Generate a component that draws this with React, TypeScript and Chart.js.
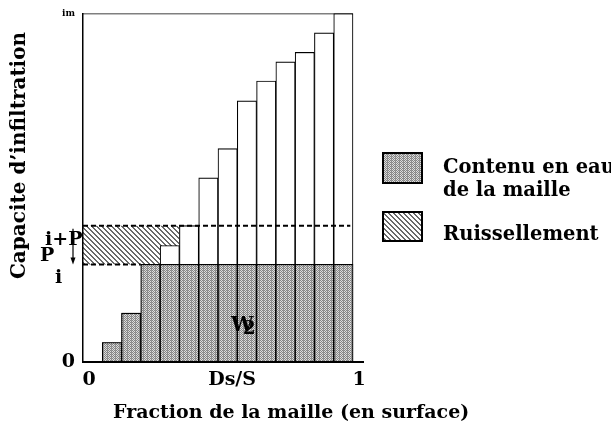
import { useEffect, useRef } from "react";
import { Chart, registerables } from "chart.js";

Chart.register(...registerables);

// ---- data ----
const SLOT_COUNT = 14; // the unit fraction is divided in 14 equal slots, slot 0 is empty
const BAR_SLOTS = [1, 2, 3, 4, 5, 6, 7, 8, 9, 10, 11, 12, 13];
const CAPACITY = [5.6, 14.0, 28.0, 33.4, 39.1, 52.8, 61.2, 74.9, 80.6, 86.1, 88.8, 94.4, 100];
const P_I = 28.0; // level P_i
const I_PLUS_P = 39.1; // level i+P
const I_MAX = 100; // im
const DS_S = 0.53;
const X_TICKS = [0, DS_S, 1];
const X_TICK_LABELS = ["0", "Ds/S", "1"];
const Y_TICKS = [0, I_MAX];
const Y_TICK_LABELS = ["0", "im"];
const HATCH_END_SLOT = 5;
const PI_DASH_END_SLOT = 3;
const LEGEND_LABELS = [["Contenu en eau", "de la maille"], ["Ruissellement"]];
const X_TITLE = "Fraction de la maille (en surface)";
const Y_TITLE = "Capacite d\u2019infiltration";

const FAMILY = '"DejaVu Serif", serif';
const bold = (s: number) => `bold ${s}px ${FAMILY}`;

function makeStipple(ctx: CanvasRenderingContext2D) {
  const c = document.createElement("canvas");
  c.width = 4;
  c.height = 2;
  const g = c.getContext("2d")!;
  g.fillStyle = "#dedede";
  g.fillRect(0, 0, 4, 2);
  g.fillStyle = "#858585";
  g.fillRect(0, 0, 1, 1);
  g.fillRect(1, 1, 1, 1);
  g.fillRect(2, 0, 1, 1);
  g.fillRect(3, 1, 1, 1);
  g.fillStyle = "#9a9a9a";
  g.fillRect(3, 0, 1, 1);
  return ctx.createPattern(c, "repeat")!;
}

function makeHatch(ctx: CanvasRenderingContext2D) {
  const s = 5;
  const c = document.createElement("canvas");
  c.width = s;
  c.height = s;
  const g = c.getContext("2d")!;
  g.fillStyle = "#ffffff";
  g.fillRect(0, 0, s, s);
  g.fillStyle = "#6a6a6a";
  for (let i = 0; i < s; i++) {
    g.fillRect(i, i, 1, 1);
    g.fillRect((i + 1) % s, i, 1, 1);
  }
  return ctx.createPattern(c, "repeat")!;
}

export default function App() {
  const canvasRef = useRef<HTMLCanvasElement | null>(null);

  useEffect(() => {
    const canvas = canvasRef.current!;
    const ctx2d = canvas.getContext("2d")!;
    const stipple = makeStipple(ctx2d);
    const hatch = makeHatch(ctx2d);

    const slotCenter = (s: number) => (s + 0.5) / SLOT_COUNT;

    const annotations = {
      id: "annotations",
      afterDatasetsDraw(chart: any) {
        const { ctx, scales } = chart;
        const x = scales.x;
        const y = scales.y;
        ctx.save();
        ctx.fillStyle = "#000";
        ctx.textAlign = "center";
        ctx.textBaseline = "alphabetic";
        const wx = x.getPixelForValue(0.59);
        const wy = y.getPixelForValue(9);
        ctx.font = bold(20);
        ctx.fillText("W", wx, wy);
        ctx.font = bold(18);
        ctx.fillText("2", wx + 7, wy + 3);
        ctx.restore();
      },
      afterDraw(chart: any) {
        const { ctx, chartArea, scales } = chart;
        const y = scales.y;
        const left = chartArea.left;
        const yIP = y.getPixelForValue(I_PLUS_P);
        const yPi = y.getPixelForValue(P_I);
        ctx.save();
        ctx.fillStyle = "#000";
        ctx.strokeStyle = "#000";
        ctx.textBaseline = "alphabetic";
        ctx.textAlign = "left";
        ctx.font = bold(19);
        ctx.fillText("i+P", left - 38, yIP + 19);
        ctx.fillText("P", left - 43, yPi - 3);
        ctx.fillText("i", left - 28, yPi + 19);

        // arrow
        const ax = left - 10;
        ctx.lineWidth = 1.2;
        ctx.beginPath();
        ctx.moveTo(ax, yIP + 3);
        ctx.lineTo(ax, yPi - 5);
        ctx.stroke();
        ctx.beginPath();
        ctx.moveTo(ax - 2.5, yPi - 7);
        ctx.lineTo(ax + 2.5, yPi - 7);
        ctx.lineTo(ax, yPi);
        ctx.closePath();
        ctx.fill();

        // axis titles
        ctx.font = bold(19);
        ctx.textAlign = "left";
        ctx.fillText(X_TITLE, 113, 418);

        ctx.save();
        ctx.translate(25, 155.5);
        ctx.rotate(-Math.PI / 2);
        ctx.textAlign = "center";
        ctx.font = bold(20);
        ctx.fillText(Y_TITLE, 0, 0);
        ctx.restore();

        // legend
        const swatches = [
          { fill: stipple, top: 153, h: 30, baselines: [173, 196] },
          { fill: hatch, top: 212, h: 29, baselines: [240] },
        ];
        swatches.forEach((sw, i) => {
          ctx.fillStyle = sw.fill;
          ctx.fillRect(383, sw.top, 39, sw.h);
          ctx.lineWidth = 2;
          ctx.strokeStyle = "#000";
          ctx.strokeRect(383, sw.top, 39, sw.h);
          ctx.fillStyle = "#000";
          ctx.font = bold(19.5);
          ctx.textAlign = "left";
          LEGEND_LABELS[i].forEach((t, j) => ctx.fillText(t, 443, sw.baselines[j]));
        });
        ctx.restore();
      },
    };

    const chart = new Chart(ctx2d, {
      type: "bar",
      data: {
        datasets: [
          {
            type: "line",
            label: "Ruissellement",
            data: [
              { x: 0, y: I_PLUS_P },
              { x: HATCH_END_SLOT / SLOT_COUNT, y: I_PLUS_P },
            ],
            fill: { value: P_I },
            backgroundColor: hatch,
            borderColor: "rgba(0,0,0,0)",
            borderWidth: 1,
            pointRadius: 0,
            order: 6,
          } as any,
          {
            label: "Capacite",
            data: BAR_SLOTS.map((s, i) => ({ x: slotCenter(s), y: CAPACITY[i] })),
            backgroundColor: "#ffffff",
            borderColor: "#000000",
            borderWidth: 1.1,
            barPercentage: 1,
            categoryPercentage: 1,
            grouped: false,
            order: 5,
          } as any,
          {
            label: "Contenu en eau de la maille",
            data: BAR_SLOTS.map((s, i) => ({ x: slotCenter(s), y: Math.min(CAPACITY[i], P_I) })),
            backgroundColor: stipple,
            borderColor: "#000000",
            borderWidth: 1.1,
            barPercentage: 1,
            categoryPercentage: 1,
            grouped: false,
            order: 4,
          } as any,
          {
            type: "line",
            label: "i+P",
            data: [
              { x: 0, y: I_PLUS_P },
              { x: 0.99, y: I_PLUS_P },
            ],
            borderColor: "#000",
            borderWidth: 2,
            borderDash: [5, 3],
            pointRadius: 0,
            fill: false,
            order: 1,
          } as any,
          {
            type: "line",
            label: "Pi",
            data: [
              { x: 0, y: P_I },
              { x: PI_DASH_END_SLOT / SLOT_COUNT, y: P_I },
            ],
            borderColor: "#000",
            borderWidth: 2,
            borderDash: [5, 3],
            pointRadius: 0,
            fill: false,
            order: 1,
          } as any,
          {
            type: "line",
            label: "im",
            data: [
              { x: 0, y: I_MAX },
              { x: 1, y: I_MAX },
            ],
            borderColor: "#000",
            borderWidth: 1.5,
            pointRadius: 0,
            fill: false,
            order: 2,
          } as any,
        ],
      },
      options: {
        animation: false,
        responsive: true,
        maintainAspectRatio: false,
        events: [],
        layout: { padding: { top: 10, right: 248, left: 0, bottom: 0 } },
        plugins: {
          legend: { display: false },
          tooltip: { enabled: false },
          title: { display: false },
        },
        scales: {
          x: {
            type: "linear",
            min: 0,
            max: 1 + 10 / 270,
            offset: false,
            grid: { display: false, drawTicks: false },
            border: { display: true, color: "#000", width: 2, z: 1 },
            afterBuildTicks: (s: any) => {
              s.ticks = X_TICKS.map((v) => ({ value: v }));
            },
            afterFit: (s: any) => {
              s.height = 64;
            },
            ticks: {
              padding: 7,
              labelOffset: 6,
              autoSkip: false,
              maxRotation: 0,
              color: "#000",
              font: { family: FAMILY, size: 19, weight: "bold" },
              callback: (_v: any, i: number) => X_TICK_LABELS[i] ?? "",
            },
          } as any,
          y: {
            type: "linear",
            min: 0,
            max: I_MAX,
            grid: { display: false, drawTicks: false },
            border: { display: true, color: "#000", width: 1.5, z: 1 },
            afterBuildTicks: (s: any) => {
              s.ticks = Y_TICKS.map((v) => ({ value: v }));
            },
            afterFit: (s: any) => {
              s.width = 83;
            },
            ticks: {
              padding: 8,
              color: "#000",
              font: (c: any) =>
                c.tick && c.tick.value === I_MAX
                  ? { family: FAMILY, size: 9, weight: "bold" }
                  : { family: FAMILY, size: 19, weight: "bold" },
              callback: (_v: any, i: number) => Y_TICK_LABELS[i] ?? "",
            },
          } as any,
        },
      },
      plugins: [annotations],
    });

    return () => chart.destroy();
  }, []);

  return (
    <div style={{ position: "fixed", left: 0, top: 0, width: 611, height: 426, background: "#fff" }}>
      <canvas ref={canvasRef} />
    </div>
  );
}
